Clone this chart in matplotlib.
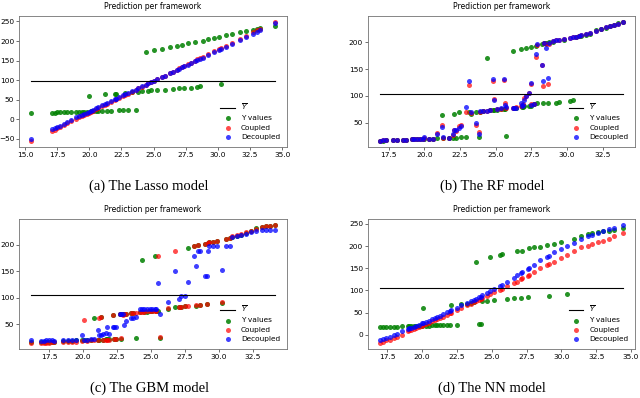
import matplotlib
matplotlib.use('Agg')
import matplotlib.pyplot as plt
from matplotlib.ticker import MultipleLocator

# (a) Lasso
lasso_x = [15.5, 17.1, 17.3, 17.5, 17.7, 18.0, 18.3, 18.6, 19.0, 19.2, 19.4, 19.6, 19.8,
           20.0, 20.1, 20.3, 20.5, 20.7, 21.0, 21.2, 21.4, 21.7, 22.0, 22.1, 22.3, 22.6,
           22.8, 23.0, 23.3, 23.6, 23.8, 24.1, 24.4, 24.6, 24.8, 25.05, 25.3, 25.65, 25.9,
           26.3, 26.5, 26.8, 27.0, 27.2, 27.4, 27.7, 27.9, 28.2, 28.4, 28.6, 28.8, 29.2,
           29.7, 30.1, 30.2, 30.6, 31.1, 31.7, 32.2, 32.7, 33.0, 33.3, 34.4]
lasso_y = [15, 17, 17, 18, 18, 18, 19, 19, 19, 20, 20, 20, 20, 60, 21, 21, 21, 21, 22, 64,
           22, 22, 66, 66, 23, 23, 68, 24, 69, 24, 71, 72, 172, 73, 74, 177, 75, 180, 76,
           184, 77, 187, 79, 191, 80, 194, 81, 197, 83, 84, 201, 204, 208, 210, 91, 215,
           218, 222, 225, 229, 231, 233, 239]
lasso_coupled = [-55, -29, -26, -23, -20, -15, -10, -5, 1, 5, 8, 11, 14, 17, 19, 22, 26, 29,
                 34, 37, 40, 45, 50, 51, 54, 59, 63, 66, 71, 75, 79, 83, 88, 92, 95, 99, 103,
                 108, 112, 119, 122, 127, 130, 133, 137, 141, 145, 149, 153, 156, 159, 166,
                 174, 180, 182, 188, 196, 206, 214, 222, 227, 232, 249]
lasso_decoupled = [-50, -25, -22, -19, -16, -11, -6, -2, 5, 8, 11, 14, 17, 20, 22, 25, 28,
                   31, 36, 39, 42, 47, 51, 53, 56, 61, 64, 67, 72, 76, 79, 84, 89, 92, 95, 99,
                   103, 108, 112, 118, 121, 126, 129, 133, 136, 140, 143, 148, 151, 154, 157,
                   164, 172, 178, 179, 186, 193, 203, 211, 218, 223, 228, 245]

# (b) RF
rf_x = [16.9, 17.1, 17.3, 17.8, 18.1, 18.5, 18.7, 19.1, 19.3, 19.5, 19.7, 19.9, 20.0, 20.3,
        20.6, 20.9, 21.25, 21.3, 21.7, 22.0, 22.1, 22.2, 22.4, 22.6, 22.9, 23.15, 23.25, 23.6,
        23.8, 23.9, 24.1, 24.4, 24.6, 24.8, 24.9, 25.1, 25.4, 25.6, 25.65, 25.75, 26.2, 26.3,
        26.4, 26.8, 26.85, 26.9, 27.0, 27.1, 27.3, 27.45, 27.5, 27.7, 27.85, 27.9, 28.25,
        28.3, 28.4, 28.55, 28.65, 28.7, 29.0, 29.25, 29.4, 29.8, 30.2, 30.4, 30.6, 30.8,
        31.0, 31.3, 31.6, 32.0, 32.4, 32.7, 33.0, 33.3, 33.6, 33.9]
rf_y = [16, 16, 17, 17, 17, 18, 18, 19, 19, 19, 19, 20, 20, 20, 20, 21, 64, 21, 22, 22, 67,
        22, 69, 24, 24, 69, 67, 70, 24, 70, 71, 171, 73, 74, 74, 74, 75, 75, 76, 26, 183, 77,
        78, 188, 80, 80, 81, 190, 81, 192, 82, 85, 193, 86, 197, 86, 198, 199, 86, 200, 201,
        87, 88, 205, 91, 92, 210, 211, 212, 214, 216, 222, 225, 227, 230, 232, 235, 238]
rf_coupled = [16, 17, 17, 17, 18, 18, 18, 19, 19, 19, 19, 20, 22, 20, 20, 31, 45, 21, 21, 27,
              37, 35, 43, 45, 70, 121, 68, 46, 32, 70, 71, 72, 73, 128, 95, 75, 76, 129, 87,
              78, 77, 78, 79, 81, 83, 85, 96, 100, 105, 122, 84, 84, 172, 194, 157, 118, 198,
              197, 122, 196, 202, 204, 205, 206, 208, 209, 210, 211, 213, 215, 217, 221, 225,
              228, 230, 232, 234, 238]
rf_decoupled = [16, 17, 17, 17, 18, 18, 18, 19, 19, 19, 20, 20, 24, 20, 20, 29, 42, 23, 21,
                29, 37, 36, 41, 44, 79, 127, 69, 50, 29, 71, 72, 72, 74, 131, 93, 75, 78, 131,
                83, 80, 77, 77, 78, 86, 81, 83, 93, 100, 105, 124, 83, 84, 179, 196, 158, 128,
                199, 190, 134, 199, 202, 204, 205, 206, 208, 209, 210, 211, 213, 215, 217, 221,
                225, 228, 230, 232, 234, 238]

# (c) GBM
gbm_x = [16.2, 16.9, 17.1, 17.3, 17.5, 17.7, 17.9, 18.5, 18.9, 19.2, 19.5, 19.95, 20.05,
         20.3, 20.6, 20.8, 21.1, 21.2, 21.3, 21.45, 21.7, 21.8, 21.95, 22.2, 22.3, 22.45,
         22.7, 22.8, 22.95, 23.05, 23.2, 23.55, 23.7, 23.9, 24.2, 24.35, 24.5, 24.7, 24.9,
         25.1, 25.3, 25.4, 25.55, 25.65, 26.25, 26.75, 27.1, 27.2, 27.5, 27.7, 28.2, 28.3,
         28.5, 28.6, 28.95, 29.1, 29.2, 29.3, 29.6, 29.9, 30.25, 30.5, 30.8, 31.0, 31.3,
         31.6, 32.0, 32.4, 32.75, 33.2, 33.5, 33.8, 34.1]
gbm_y = [17, 17, 17, 18, 18, 18, 18, 19, 19, 19, 20, 20, 20, 20, 21, 63, 21, 21, 64, 21, 22,
         22, 22, 67, 22, 23, 70, 23, 69, 69, 70, 71, 72, 24, 73, 171, 74, 74, 75, 75, 178,
         76, 76, 25, 79, 82, 82, 83, 84, 194, 198, 84, 199, 86, 201, 88, 203, 204, 205, 206,
         91, 210, 212, 214, 216, 218, 222, 225, 231, 232, 234, 235, 236]
gbm_coupled = [15, 16, 16, 16, 16, 17, 17, 17, 18, 18, 18, 19, 59, 19, 20, 20, 20, 62, 64,
               20, 21, 21, 21, 67, 22, 23, 70, 24, 68, 70, 70, 71, 72, 72, 73, 74, 74, 75,
               75, 75, 76, 76, 178, 27, 81, 187, 82, 83, 84, 84, 198, 86, 199, 87, 201, 88,
               203, 204, 205, 207, 93, 210, 212, 216, 218, 220, 223, 226, 229, 232, 234,
               235, 237]
gbm_decoupled = [20, 19, 19, 20, 20, 20, 19, 21, 21, 20, 20, 31, 21, 21, 22, 22, 40, 31, 30,
                 33, 34, 46, 33, 46, 46, 45, 69, 69, 69, 49, 56, 62, 63, 64, 79, 79, 79, 79,
                 79, 79, 79, 79, 128, 70, 92, 151, 98, 104, 103, 129, 178, 159, 187, 187, 141,
                 141, 187, 198, 198, 198, 152, 198, 198, 214, 216, 218, 220, 223, 226, 228,
                 228, 228, 228]

# (d) NN
nn_x = [17.0, 17.2, 17.45, 17.7, 18.0, 18.2, 18.6, 19.0, 19.1, 19.2, 19.4, 19.6, 19.8, 20.0,
        20.1, 20.3, 20.5, 20.7, 20.9, 21.1, 21.3, 21.5, 21.8, 22.0, 22.1, 22.5, 22.8, 23.2,
        23.5, 23.7, 23.85, 24.1, 24.2, 24.3, 24.7, 24.9, 25.2, 25.6, 25.75, 26.1, 26.6, 26.8,
        27.1, 27.2, 27.6, 27.7, 28.0, 28.5, 29.0, 29.1, 29.5, 30.0, 30.4, 30.9, 31.4, 31.9,
        32.2, 32.6, 33.0, 33.4, 33.8, 34.4]
nn_y = [17, 17, 17, 17, 18, 17, 19, 19, 20, 20, 20, 20, 20, 20, 61, 20, 20, 21, 21, 21, 21,
        21, 21, 22, 66, 22, 70, 70, 72, 73, 164, 25, 24, 76, 77, 176, 78, 180, 182, 81, 82,
        188, 83, 189, 84, 195, 197, 199, 202, 87, 205, 210, 91, 217, 222, 227, 230, 231, 233,
        235, 237, 240]
nn_coupled = [-19, -16, -13, -11, -7, -5, 0, 9, 10, 11, 13, 15, 18, 20, 21, 24, 27, 30, 33,
              35, 37, 40, 45, 48, 49, 55, 61, 66, 70, 73, 75, 78, 80, 83, 88, 92, 96, 101,
              104, 109, 116, 119, 125, 127, 133, 135, 141, 150, 157, 159, 164, 172, 179, 190,
              197, 201, 205, 209, 212, 217, 222, 230]
nn_decoupled = [-13, -10, -7, -5, -1, 2, 8, 14, 15, 16, 18, 20, 23, 26, 27, 29, 32, 35, 38,
                41, 43, 46, 51, 54, 55, 61, 66, 72, 76, 79, 81, 84, 86, 89, 95, 99, 104, 110,
                113, 120, 129, 134, 140, 142, 149, 151, 158, 168, 176, 178, 186, 194, 200, 208,
                215, 222, 226, 230, 234, 238, 241, 248]

y_bar = [99, 103, 105, 105]
captions = ['(a) The Lasso model', '(b) The RF model', '(c) The GBM model', '(d) The NN model']

panels = [(lasso_x, lasso_y, lasso_coupled, lasso_decoupled),
          (rf_x, rf_y, rf_coupled, rf_decoupled),
          (gbm_x, gbm_y, gbm_coupled, gbm_decoupled),
          (nn_x, nn_y, nn_coupled, nn_decoupled)]

# axes boxes in figure fraction, caption positions
boxes = [[0.030, 0.631, 0.418, 0.329], [0.575, 0.631, 0.417, 0.329],
         [0.030, 0.123, 0.418, 0.327], [0.575, 0.123, 0.417, 0.327]]
cap_pos = [(0.232, 0.531), (0.769, 0.531), (0.233, 0.024), (0.769, 0.024)]

fig = plt.figure(figsize=(6.4, 3.98), dpi=100)

for i, (x, y, coupled, decoupled) in enumerate(panels):
    ax = fig.add_axes(boxes[i])
    ax.plot([min(x), max(x)], [y_bar[i], y_bar[i]], color='black', lw=0.8,
            label=r'$\overline{Y}$')
    ax.scatter(x, y, s=13, color='green', alpha=0.85, linewidths=0, label='Y values')
    ax.scatter(x, coupled, s=13, color='red', alpha=0.7, linewidths=0, label='Coupled')
    ax.scatter(x, decoupled, s=13, color='blue', alpha=0.75, linewidths=0, label='Decoupled')

    ax.set_title('Prediction per framework', fontsize=5.5, pad=5)
    ax.xaxis.set_major_locator(MultipleLocator(2.5))
    ax.yaxis.set_major_locator(MultipleLocator(50))
    ax.tick_params(labelsize=5.3, length=2, width=0.4, pad=1.5)
    for sp in ax.spines.values():
        sp.set_linewidth(0.6)
        sp.set_color('0.45')
    ax.legend(loc='lower right', fontsize=5.3, frameon=False, labelspacing=0.45)

    fig.text(cap_pos[i][0], cap_pos[i][1], captions[i], family='Liberation Serif',
             fontsize=10.5, ha='center', va='center')

fig.savefig('out.png', dpi=100)
